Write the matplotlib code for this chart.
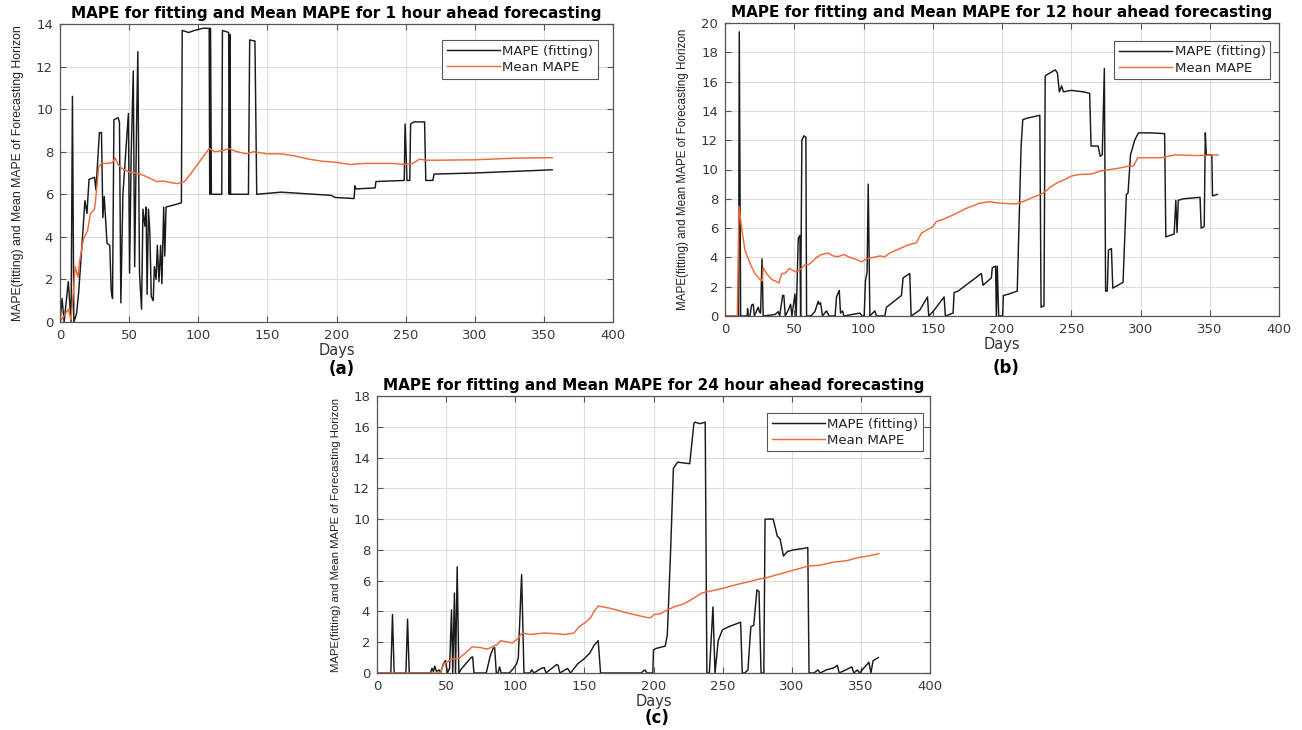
import numpy as np
import matplotlib.pyplot as plt

# ---- data (day, MAPE) ----
# (a) 1 hour ahead
a_fit_days = [0, 1.5, 3, 6, 8, 9, 10, 12, 13.5, 16.5, 18, 19.5, 21, 25, 26, 28.5, 30, 31, 32, 34,
              36, 37, 38, 39, 42, 43, 44, 45.5, 48, 49.5, 50.3, 51.5, 53, 54, 55.4, 56.3, 57.5, 59, 60, 61.4,
              62.3, 63, 64, 65, 66, 67.4, 68.3, 69.5, 70.4, 71.6, 72.8, 73.7, 75, 75.8, 76.7, 82.4, 87.8, 88.4, 93, 97.4,
              103.4, 107.9, 108.3, 108.9, 109.5, 117, 117.5, 122, 122.4, 123, 123.4, 136.3, 137.2, 141, 142.3, 160, 196, 199, 212.7, 213.3,
              214, 228, 228.5, 249, 249.6, 251, 253, 253.6, 256, 263.7, 264.6, 269.7, 270.5, 300, 356]
a_fit_mape = [0, 1.1, 0, 1.9, 0, 10.6, 0, 0.4, 1.4, 4.2, 5.7, 5.1, 6.7, 6.8, 6.2, 8.9, 8.9, 4.9, 5.9, 3.7,
              3.6, 1.5, 1.1, 9.5, 9.6, 9.4, 0.9, 6.0, 8.4, 9.8, 2.3, 7.9, 11.8, 2.6, 9.3, 12.7, 2.3, 0.6, 5.3, 4.5,
              5.4, 1.3, 5.3, 4.2, 1.2, 1.0, 2.6, 2.0, 3.6, 1.9, 3.6, 1.8, 5.4, 3.1, 5.4, 5.5, 5.6, 13.7, 13.6, 13.7,
              13.8, 13.8, 6.0, 13.8, 6.0, 6.0, 13.7, 13.6, 6.0, 13.5, 6.0, 6.0, 13.25, 13.2, 6.0, 6.1, 5.95, 5.85, 5.8, 6.4,
              6.25, 6.3, 6.6, 6.65, 9.3, 6.65, 6.65, 9.3, 9.4, 9.4, 6.65, 6.65, 6.95, 7.0, 7.15]
a_mean_days = [0, 3, 6, 8, 10, 11, 13, 14, 17, 20, 22, 25, 26, 28, 30, 35, 38, 40, 42, 45,
               50, 55, 60, 65, 70, 75, 80, 85, 90, 95, 100, 105, 108, 112, 118, 122, 128, 135, 140, 150,
               160, 170, 180, 190, 200, 210, 220, 230, 240, 250, 255, 260, 265, 270, 300, 330, 356]
a_mean_mape = [0, 0.3, 0.6, 0.1, 1.7, 2.6, 2.1, 2.8, 3.9, 4.3, 5.1, 5.3, 5.9, 7.3, 7.45, 7.45, 7.5, 7.7, 7.4, 7.2,
               7.05, 7.0, 6.9, 6.75, 6.6, 6.62, 6.55, 6.5, 6.6, 7.0, 7.45, 7.9, 8.15, 8.0, 8.05, 8.15, 8.0, 7.9, 8.0, 7.9,
               7.9, 7.8, 7.65, 7.55, 7.5, 7.4, 7.45, 7.45, 7.45, 7.4, 7.45, 7.65, 7.6, 7.6, 7.62, 7.7, 7.72]

# (b) 12 hour ahead
b_fit_days = [0, 9.8, 10.3, 11.3, 16.0, 16.3, 16.8, 18, 19.2, 20.4, 21.2, 24, 24.8, 25.7, 26.7, 27.6, 36, 38.5, 39.5, 41.6,
              42.5, 43.5, 45.7, 47.4, 48.3, 50.5, 51.4, 52.9, 54.1, 54.6, 55.5, 57, 58.4, 58.9, 62, 64.9, 67.3, 68, 69, 70.4,
              73.3, 75.2, 79.5, 80.5, 82.5, 83.4, 84.9, 85.8, 97.4, 99, 100.5, 101.4, 102.6, 103.4, 104.6, 108.2, 109.4, 115.4, 116.6, 127.4,
              128.6, 133.4, 134.4, 140.6, 146.2, 147.1, 150.2, 158.2, 159.1, 164.7, 165.4, 168.3, 185.1, 186.3, 192.3, 193, 195.4, 195.9, 196.6, 197.6,
              200.5, 201, 205, 211, 213.8, 215, 218, 227.3, 228.2, 230.3, 231.2, 234.8, 238.4, 240, 241.4, 243, 244.4, 249.8, 258.9, 263.3,
              264.3, 269.4, 270.9, 272.4, 273.9, 274.8, 276, 276.9, 279, 280, 287.4, 289.8, 291, 292.8, 295.8, 298.5, 306.9, 317.4, 318.3, 324.3,
              325.5, 326.4, 327.3, 331, 343, 343.8, 346, 346.8, 347.5, 351.5, 352, 355.5]
b_fit_mape = [0, 0, 19.4, 0, 0, 0.5, 0, 0, 0.75, 0.8, 0, 0.6, 0.3, 0.2, 3.9, 0, 0.1, 0.3, 0, 1.4,
              1.4, 0, 0.4, 0.8, 0, 1.5, 0, 5.3, 5.5, 0, 12.0, 12.3, 12.2, 0, 0, 0.3, 1.0, 0.8, 0.9, 0,
              0.35, 0, 0, 1.3, 1.75, 0.2, 0.35, 0, 0.2, 0, 0, 2.4, 3.0, 9.0, 0, 0.35, 0, 0, 0.6, 1.4,
              2.6, 2.9, 0, 0.4, 1.3, 0, 0.3, 1.3, 0, 0.2, 1.6, 1.7, 2.9, 2.1, 2.6, 3.3, 3.4, 0, 3.4, 0,
              0, 1.4, 1.5, 1.7, 11.6, 13.4, 13.5, 13.7, 0.6, 0.7, 16.4, 16.6, 16.8, 16.6, 15.3, 15.7, 15.3, 15.4, 15.3, 15.2,
              11.6, 11.6, 10.9, 11.0, 16.9, 1.7, 1.7, 4.5, 4.6, 1.9, 2.3, 8.3, 8.4, 11.0, 12.0, 12.5, 12.5, 12.45, 5.4, 5.6,
              7.9, 5.7, 7.9, 8.0, 8.1, 6.0, 6.1, 12.5, 11.0, 11.0, 8.2, 8.3]
b_mean_days = [0, 8.9, 10.1, 12, 14.4, 18, 21.6, 25.2, 26.9, 27.6, 30, 33.6, 37.3, 39, 40.9, 43.3, 46.4, 49.3, 51.7, 54.1,
               57.7, 60.1, 62.5, 66.1, 69.7, 74.5, 78.1, 81.7, 85.8, 90.1, 95, 98.6, 102.2, 107, 111.8, 115.4, 119, 126.2, 132.2, 138.2,
               141.8, 145.4, 150.2, 152.6, 157.5, 164.7, 174.3, 183.9, 191.1, 198.3, 210, 215, 220, 225, 230, 235, 240, 245, 250, 255,
               265, 268, 271, 278, 285, 290, 295, 298, 305, 315, 320, 325, 340, 356]
b_mean_mape = [0, 0, 7.5, 6.0, 4.5, 3.6, 2.9, 2.5, 2.4, 3.3, 2.9, 2.5, 2.35, 2.25, 2.9, 2.9, 3.25, 3.1, 3.0, 3.15,
               3.5, 3.5, 3.65, 4.0, 4.2, 4.3, 4.1, 4.05, 4.2, 4.0, 3.85, 3.7, 3.9, 4.0, 4.1, 4.05, 4.3, 4.6, 4.85, 5.0,
               5.65, 5.85, 6.1, 6.45, 6.6, 6.9, 7.35, 7.7, 7.8, 7.7, 7.65, 7.8, 8.0, 8.2, 8.4, 8.8, 9.1, 9.3, 9.55, 9.65,
               9.7, 9.8, 9.9, 10.0, 10.1, 10.2, 10.25, 10.8, 10.8, 10.8, 10.9, 11.0, 10.95, 11.0]

# (c) 24 hour ahead
c_fit_days = [0, 10, 11.2, 12.4, 20.9, 22.1, 23.3, 38.6, 39.8, 40.8, 41.8, 43, 45, 46, 48, 49.5, 51, 52.5, 53.9, 54.8,
              56, 56.8, 58, 59.2, 61.3, 64.2, 68, 69.2, 70.1, 79, 81.9, 84, 85.1, 86.3, 87.5, 88.7, 89.8, 95.7, 98.7, 101,
              102.2, 104.6, 106.3, 110.5, 112, 113.5, 118.7, 121, 122.2, 130, 131, 132.3, 137.8, 140, 145.2, 149.6, 154, 157, 160, 161.7,
              190.9, 193.8, 195.3, 199.5, 200, 202, 208.5, 210, 212.4, 214.4, 217.4, 226.2, 229.2, 230, 233.6, 237.4, 238.6, 240.4, 243, 244.5,
              246.8, 249.8, 254.2, 263, 264.2, 266, 268.3, 270.4, 272.5, 274.8, 276.3, 277.8, 279.8, 280.7, 286.6, 289.5, 291.6, 294, 297, 301.3,
              308.7, 311.6, 312.5, 316, 319, 320.5, 325, 330.8, 333, 334.3, 339, 343.5, 344.9, 347.5, 349, 355.8, 357.3, 358.8, 362.6]
c_fit_mape = [0, 0, 3.8, 0, 0, 3.5, 0, 0, 0.3, 0.1, 0.45, 0.1, 0.2, 0, 0.6, 0.8, 0, 0.3, 4.1, 0,
              5.2, 0, 6.9, 0, 0.3, 0.6, 1.0, 1.05, 0, 0, 1.1, 1.6, 1.65, 0, 0, 0.4, 0, 0, 0.3, 0.6,
              1.0, 6.4, 0, 0, 0.2, 0, 0.3, 0.35, 0, 0.55, 0.5, 0, 0.3, 0, 0.6, 0.9, 1.3, 1.8, 2.1, 0,
              0, 0.2, 0, 0, 1.5, 1.6, 1.75, 2.5, 8.0, 13.3, 13.7, 13.6, 16.2, 16.3, 16.2, 16.3, 0, 0, 4.3, 0,
              2.1, 2.8, 3.0, 3.3, 0, 0, 0.2, 3.0, 3.1, 5.4, 5.3, 0, 0, 10.0, 10.0, 8.9, 8.7, 7.6, 7.9, 8.0,
              8.1, 8.15, 0, 0, 0.2, 0, 0.2, 0.35, 0.5, 0, 0.2, 0.4, 0, 0.2, 0, 0.7, 0, 0.8, 1.0]
c_mean_days = [0, 45.9, 48.3, 50.2, 54.3, 59.2, 64, 68.8, 74.9, 79.7, 84.5, 87, 89.4, 95.4, 97.8, 101.4, 105, 111.1, 120.8, 130.4,
               135.3, 142.5, 146.1, 151, 154.6, 157, 160, 169, 181, 195.7, 198, 200.5, 205, 210, 215, 222, 228, 235, 240, 245,
               250, 258, 265, 270, 276, 282, 290, 298, 306, 312, 320, 330, 340, 348, 355, 363]
c_mean_mape = [0, 0, 0.6, 0.7, 0.9, 0.95, 1.3, 1.7, 1.65, 1.55, 1.75, 1.85, 2.1, 2.0, 1.95, 2.2, 2.6, 2.5, 2.6, 2.55,
               2.5, 2.6, 3.0, 3.3, 3.6, 4.0, 4.35, 4.2, 3.9, 3.6, 3.6, 3.8, 3.85, 4.1, 4.3, 4.5, 4.8, 5.2, 5.3, 5.4,
               5.5, 5.7, 5.85, 5.95, 6.1, 6.2, 6.4, 6.6, 6.8, 6.95, 7.0, 7.2, 7.3, 7.5, 7.6, 7.75]

horizons = [1, 12, 24]
y_tops = [14, 20, 18]
captions = ['(a)', '(b)', '(c)']

plt.rcParams['font.family'] = ['DejaVu Sans']

fig = plt.figure(figsize=(13.02, 7.30), dpi=100)
W, H = 1302, 730

# axes boxes in pixels: left, top, right, bottom
boxes = [(60, 24, 613, 322), (725, 23, 1279, 316), (377, 396, 930, 673)]
legend_anchor = [(0.973, 0.946), (0.984, 0.939), (0.987, 0.939)]
ylabel_size = [8.8, 8.4, 8.2]
caption_pos = [(342, 369), (1006, 368), (657, 718)]

series = [(a_fit_days, a_fit_mape, a_mean_days, a_mean_mape),
          (b_fit_days, b_fit_mape, b_mean_days, b_mean_mape),
          (c_fit_days, c_fit_mape, c_mean_days, c_mean_mape)]

for i in range(3):
    l, t, r, b = boxes[i]
    ax = fig.add_axes([l / W, 1 - b / H, (r - l) / W, (b - t) / H])
    fx, fy, mx, my = series[i]
    ax.plot(fx, fy, color='#1a1a1a', lw=1.05, label='MAPE (fitting)')
    ax.plot(mx, my, color='#EE6A38', lw=1.05, label='Mean MAPE')

    ax.set_xlim(0, 400)
    ax.set_ylim(0, y_tops[i])
    ax.set_xticks(np.arange(0, 401, 50))
    ax.set_yticks(np.arange(0, y_tops[i] + 1, 2))
    ax.grid(True, color='#dedede', lw=0.8)
    ax.set_axisbelow(True)
    ax.tick_params(direction='in', top=True, right=True, length=4, width=0.8,
                   color='#555555', labelcolor='#3a3a3a', labelsize=9.5, pad=5)
    for s in ax.spines.values():
        s.set_color('#555555')
        s.set_linewidth(0.9)

    ax.set_title('MAPE for fitting and Mean MAPE for %d hour ahead forecasting' % horizons[i],
                 fontsize=11, fontweight='bold', pad=4)
    ax.set_xlabel('Days', fontsize=10.5, color='#333333', labelpad=1)
    ax.set_ylabel('MAPE(fitting) and Mean MAPE of Forecasting Horizon', fontsize=ylabel_size[i],
                  family='Liberation Sans', color='#222222')
    ax.yaxis.set_label_coords(-0.065, 0.5)

    leg = ax.legend(loc='upper right', bbox_to_anchor=legend_anchor[i], borderaxespad=0,
                    fontsize=9.5, handlelength=4.0, handletextpad=0.2, borderpad=0.35,
                    labelspacing=0.25, fancybox=False, framealpha=1, edgecolor='#555555')
    leg.get_frame().set_linewidth(0.8)
    for txt in leg.get_texts():
        txt.set_color('#222222')

    cx, cy = caption_pos[i]
    fig.text(cx / W, 1 - cy / H, captions[i], ha='center', va='center',
             fontsize=12, fontweight='bold')

plt.savefig('out.png', dpi=100)
plt.close()
